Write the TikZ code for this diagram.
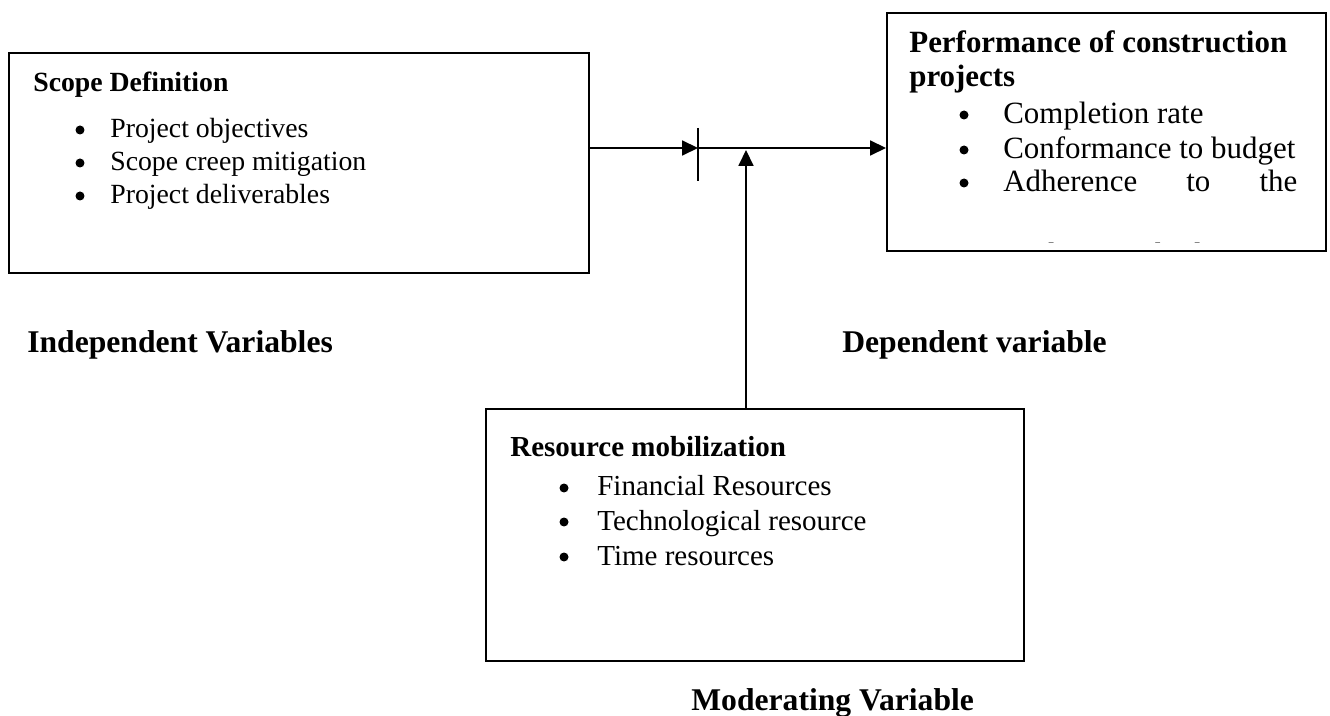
\documentclass[tikz,border=0pt]{standalone}
\usepackage{fontspec}
\setmainfont{Liberation Serif}
\usetikzlibrary{arrows.meta}

\begin{document}
\begin{tikzpicture}[x=0.02cm, y=-0.02cm,
  box/.style={draw, line width=1.4pt, inner sep=0, anchor=north west},
  arr/.style={line width=0.85pt, -{Triangle[length=9pt,width=8.5pt]}},
  dot/.style={circle, fill, inner sep=0, minimum size=0.18cm},
  head/.style={font=\fontsize{15.8}{19}\selectfont\bfseries, anchor=base west, inner sep=0},
  item/.style={font=\fontsize{15.8}{19}\selectfont, anchor=base west, inner sep=0},
  headr/.style={font=\fontsize{17.6}{20}\selectfont\bfseries, anchor=base west, inner sep=0},
  itemr/.style={font=\fontsize{17.6}{20}\selectfont, anchor=base west, inner sep=0},
  headm/.style={font=\fontsize{16.5}{19}\selectfont\bfseries, anchor=base west, inner sep=0},
  itemm/.style={font=\fontsize{16.5}{19}\selectfont, anchor=base west, inner sep=0},
  label/.style={font=\fontsize{18}{21}\selectfont\bfseries, anchor=base west, inner sep=0}]
  \useasboundingbox (0,0) rectangle (1330,716);
  % Independent variable box
  \node[box, minimum width=11.6cm, minimum height=4.4cm] (scope) at (8,52) {};
  \node[head] (scopehead) at (33,92) {Scope Definition};
  \foreach \y/\t [count=\i] in {138/Project objectives, 171/Scope creep mitigation, 204/Project deliverables} {
    \node[dot] (sb\i) at (80,\y-8) {};
    \node[item] (si\i) at (110,\y) {\t};
  }
  % Dependent variable box
  \node[box, minimum width=8.78cm, minimum height=4.76cm] (perf) at (886,12) {};
  \node[headr] (perfhead1) at (909,53) {Performance of construction};
  \node[headr] (perfhead2) at (909,87) {projects};
  \foreach \y/\t [count=\i] in {124/Completion rate, 159/Conformance to budget} {
    \node[dot] (pb\i) at (964,\y-9) {};
    \node[itemr] (pi\i) at (1003,\y) {\t};
  }
  \node[dot] (pb3) at (964,183) {};
  \node[itemr, text width=5.88cm] (pi3) at (1003,192) {Adherence\hfill to\hfill the};
  \begin{scope}
    \clip (887,13) rectangle (1324,243);
    \node[itemr] (pi4) at (1003,265) {quality standards};
  \end{scope}
  % Moderating variable box
  \node[box, minimum width=10.76cm, minimum height=5.04cm] (res) at (485,408) {};
  \node[headm] (reshead) at (510,457) {Resource mobilization};
  \foreach \y/\t [count=\i] in {496/Financial Resources, 530/Technological resource, 565/Time resources} {
    \node[dot] (rb\i) at (564,\y-8) {};
    \node[itemm] (ri\i) at (597,\y) {\t};
  }
  % Labels
  \node[label] (indep) at (27,353) {Independent Variables};
  \node[label] (dep) at (842,353) {Dependent variable};
  \node[label] (moder) at (691,710) {Moderating Variable};
  % Connectors
  \coordinate (bar) at (698,148);
  \coordinate (hit) at (746,150);
  \draw[arr] (scope.east |- bar) -- (bar);
  \draw[line width=0.85pt] (698,128) -- (698,181);
  \draw[arr] (bar) -- (perf.west |- bar);
  \draw[arr] (res.north -| hit) -- (hit);
\end{tikzpicture}
\end{document}
